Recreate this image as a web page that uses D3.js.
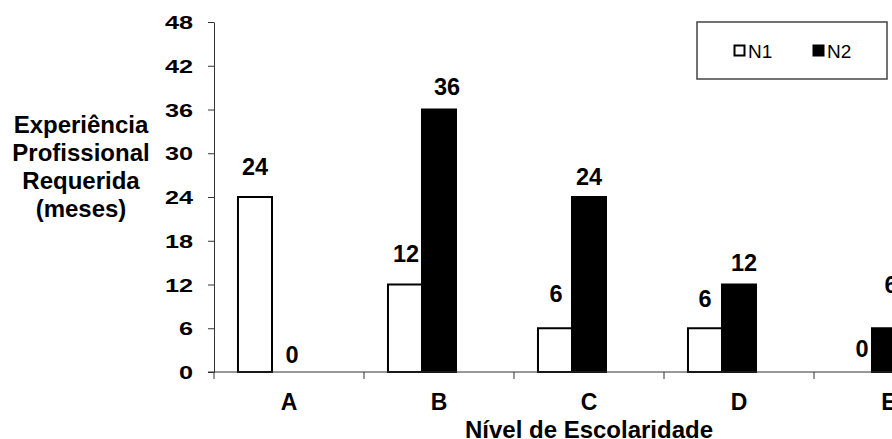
<!DOCTYPE html>
<html>
<head>
<meta charset="utf-8">
<script src="https://cdn.jsdelivr.net/npm/d3@7"></script>
<style>
  body { margin: 0; background: #fff; }
  svg { display: block; font-family: "Liberation Sans", Arial, sans-serif; }
</style>
</head>
<body>
<div id="main"></div>
<script>
const ctx = {
    WIDTH: 892,
    HEIGHT: 439,
};

// data
const categories = ["A", "B", "C", "D", "E"];
const seriesNames = ["N1", "N2"];
const n1Values = [24, 12, 6, 6, 0];
const n2Values = [0, 36, 24, 12, 6];
const yTicks = [0, 6, 12, 18, 24, 30, 36, 42, 48];

// hand-placed data labels in the original: [dx, lift above bar top]
const n1LabelNudge = [[0, 22], [1, 23], [1, 26], [0, 21], [7, 15]];
const n2LabelNudge = [[3, 9], [8, 15], [0, 12], [5, 14], [2, 35]];

function createChart() {
    const svg = d3.select("#main").append("svg")
        .attr("width", ctx.WIDTH)
        .attr("height", ctx.HEIGHT);

    const plot = { left: 214, right: 964, top: 22, bottom: 372 };

    const x = d3.scaleBand()
        .domain(categories)
        .range([plot.left, plot.right])
        .padding(0);

    // excel left room for a third (empty) series in every group
    const xInner = d3.scaleBand()
        .domain(["N1", "N2", "_"])
        .range([0, x.bandwidth()])
        .paddingInner(0)
        .paddingOuter(0.705);

    const y = d3.scaleLinear()
        .domain([0, 48])
        .range([plot.bottom, plot.top]);

    const rows = categories.map((c, i) => ({
        cat: c,
        vals: [
            { key: "N1", v: n1Values[i], nudge: n1LabelNudge[i] },
            { key: "N2", v: n2Values[i], nudge: n2LabelNudge[i] },
        ]
    }));

    // y axis
    const yAxis = svg.append("g")
        .attr("transform", `translate(${plot.left},0)`)
        .call(d3.axisLeft(y).tickValues(yTicks).tickSize(6).tickSizeOuter(0));
    yAxis.select(".domain").attr("stroke", "#333");
    yAxis.selectAll(".tick line").attr("stroke", "#333");
    // tick numbers are stretched wide in the original
    const sx = 1.33;
    yAxis.selectAll(".tick text")
        .attr("x", -21 / sx)
        .attr("dy", "0.35em")
        .attr("transform", `scale(${sx},1)`)
        .style("font-size", "19px")
        .style("font-weight", "bold")
        .style("font-family", "'Liberation Sans', Arial, sans-serif")
        .attr("fill", "#000");

    // groups + bars
    const groups = svg.append("g").selectAll("g")
        .data(rows)
        .enter().append("g")
        .attr("transform", d => `translate(${x(d.cat)},0)`);

    groups.selectAll("rect")
        .data(d => d.vals)
        .enter().append("rect")
        .attr("x", d => xInner(d.key))
        .attr("y", d => y(d.v))
        .attr("width", xInner.bandwidth())
        .attr("height", d => y(0) - y(d.v))
        .attr("fill", d => d.key === "N1" ? "#fff" : "#000")
        .attr("stroke", "#000")
        .attr("stroke-width", 2);

    groups.selectAll("text")
        .data(d => d.vals)
        .enter().append("text")
        .attr("x", d => xInner(d.key) + xInner.bandwidth() / 2 + d.nudge[0])
        .attr("y", d => y(d.v) - d.nudge[1])
        .attr("text-anchor", "middle")
        .style("font-size", "23.5px")
        .style("font-weight", "bold")
        .text(d => d.v);

    // x axis line and group boundary ticks
    svg.append("line")
        .attr("x1", plot.left - 6).attr("x2", plot.right)
        .attr("y1", y(0)).attr("y2", y(0))
        .attr("stroke", "#333");
    svg.append("g").selectAll("line")
        .data(categories)
        .enter().append("line")
        .attr("x1", d => x(d)).attr("x2", d => x(d))
        .attr("y1", y(0)).attr("y2", y(0) + 7)
        .attr("stroke", "#333");

    svg.append("g").selectAll("text")
        .data(categories)
        .enter().append("text")
        .attr("x", d => x(d) + x.bandwidth() / 2)
        .attr("y", 410)
        .attr("text-anchor", "middle")
        .style("font-size", "23px")
        .style("font-weight", "bold")
        .text(d => d);

    // axis titles
    svg.append("text")
        .attr("x", (plot.left + plot.right) / 2)
        .attr("y", 438)
        .attr("text-anchor", "middle")
        .style("font-size", "24px")
        .style("font-weight", "bold")
        .text("Nível de Escolaridade");

    const yTitle = ["Experiência", "Profissional", "Requerida", "(meses)"];
    svg.append("text")
        .attr("text-anchor", "middle")
        .style("font-size", "24px")
        .style("font-weight", "bold")
        .selectAll("tspan")
        .data(yTitle)
        .enter().append("tspan")
        .attr("x", 81)
        .attr("y", (d, i) => 133 + i * 28)
        .text(d => d);

    // legend
    const lg = svg.append("g");
    lg.append("rect")
        .attr("x", 697).attr("y", 22)
        .attr("width", 190).attr("height", 57)
        .attr("fill", "#fff")
        .attr("stroke", "#444")
        .attr("stroke-width", 1.5);
    const items = lg.selectAll("g")
        .data(seriesNames)
        .enter().append("g")
        .attr("transform", (d, i) => `translate(${734 + i * 79},45)`);
    items.append("rect")
        .attr("x", 0.5).attr("y", 0.5)
        .attr("width", 10).attr("height", 10)
        .attr("fill", d => d === "N1" ? "#fff" : "#000")
        .attr("stroke", "#000")
        .attr("stroke-width", 2);
    items.append("text")
        .attr("x", 14)
        .attr("y", 12.5)
        .style("font-size", "19px")
        .text(d => d);
}

createChart();
</script>
</body>
</html>
